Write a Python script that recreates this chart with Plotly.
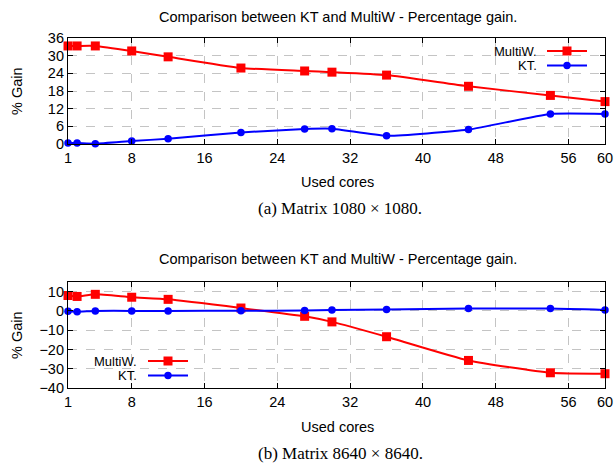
import plotly.graph_objects as go

cores = [1, 2, 4, 8, 12, 20, 27, 30, 36, 45, 54, 60]
multiw_1080 = [33.3, 33.3, 33.3, 31.6, 29.6, 25.8, 24.8, 24.4, 23.4, 19.6, 16.5, 14.4]
kt_1080 = [0.3, 0.3, 0.1, 1.0, 1.8, 3.9, 5.1, 5.2, 2.8, 4.9, 10.2, 10.2]
multiw_8640 = [8.0, 7.5, 8.6, 7.1, 6.0, 1.5, -2.8, -5.7, -13.4, -25.7, -32.1, -32.6]
kt_8640 = [-0.2, -0.4, 0.0, 0.0, 0.0, 0.1, 0.2, 0.5, 0.7, 1.2, 1.2, 0.5]
x_ticks = [1, 8, 16, 24, 32, 40, 48, 56, 60]
y_ticks_1 = [0, 6, 12, 18, 24, 30, 36]
y_ticks_2 = [-40, -30, -20, -10, 0, 10]
title_text = "Comparison between KT and MultiW - Percentage gain."
captions = ["(a) Matrix 1080 × 1080.", "(b) Matrix 8640 × 8640."]

W, H = 616, 468
RED = "#ff0000"
BLUE = "#0000ff"
SANS = "Liberation Sans, Arial, sans-serif"
SERIF = "Liberation Serif, Times New Roman, serif"
FS = 14.5

def px(x):
    return x / W

def py(y):
    return 1 - y / H

fig = go.Figure()

def add_series(xa, ya, xs, ys, color, symbol, size):
    fig.add_trace(go.Scatter(
        x=xs, y=ys, xaxis=xa, yaxis=ya, mode="lines+markers",
        line=dict(color=color, width=2, shape="spline", smoothing=0.5),
        marker=dict(color=color, symbol=symbol, size=size),
        showlegend=False, cliponaxis=False))

add_series("x", "y", cores, multiw_1080, RED, "square", 9)
add_series("x", "y", cores, kt_1080, BLUE, "circle", 7.5)
add_series("x2", "y2", cores, multiw_8640, RED, "square", 9)
add_series("x2", "y2", cores, kt_8640, BLUE, "circle", 7.5)

xdom = [px(68), px(605)]
axis_common = dict(
    showline=True, linecolor="black", linewidth=1.2, mirror="ticks",
    ticks="inside", ticklen=5, tickcolor="black", tickwidth=1,
    showgrid=True, gridcolor="#c4c4c4", griddash="dash", gridwidth=1,
    zeroline=False, tickfont=dict(family=SANS, size=FS, color="black"),
    automargin=False,
)

fig.update_layout(
    width=W, height=H, margin=dict(l=0, r=0, t=0, b=0),
    paper_bgcolor="white", plot_bgcolor="white",
    xaxis=dict(domain=xdom, range=[1, 60], tickvals=x_ticks, anchor="y", **axis_common),
    yaxis=dict(domain=[py(144), py(38)], range=[0, 36], tickvals=y_ticks_1, anchor="x", **axis_common),
    xaxis2=dict(domain=xdom, range=[1, 60], tickvals=x_ticks, anchor="y2", **axis_common),
    yaxis2=dict(domain=[py(388), py(282)], range=[-40, 15], tickvals=y_ticks_2, anchor="x2", **axis_common),
)

def text(t, x, y, size=FS, family=SANS, angle=0, xanchor="center"):
    fig.add_annotation(text=t, xref="paper", yref="paper", x=px(x), y=py(y),
                       showarrow=False, xanchor=xanchor, yanchor="middle",
                       textangle=angle, borderpad=0,
                       font=dict(family=family, size=size, color="black"))

# titles, axis titles and captions
for top, bottom, ty, cap in [(38, 144, 17, captions[0]), (282, 388, 259, captions[1])]:
    text(title_text, 338, ty)
    text("% Gain", 17, (top + bottom) / 2, angle=-90)
    text("Used cores", 337, bottom + 38.5)
    text(cap, 340, bottom + 65, size=17, family=SERIF)

# legends (text left of sample, gnuplot style)
def legend(text_right, line_x0, line_x1, y, label, color, square):
    text(label, text_right, y, size=13, xanchor="right")
    fig.add_shape(type="line", xref="paper", yref="paper",
                  x0=px(line_x0), x1=px(line_x1), y0=py(y), y1=py(y),
                  line=dict(color=color, width=2))
    cx = (line_x0 + line_x1) / 2
    r = 4.5 if square else 3.7
    fig.add_shape(type="rect" if square else "circle", xref="paper", yref="paper",
                  x0=px(cx - r), x1=px(cx + r), y0=py(y - r), y1=py(y + r),
                  fillcolor=color, line=dict(color=color, width=0))

legend(538, 547, 587, 51, "MultiW.", RED, True)
legend(538, 547, 587, 65.5, "KT.", BLUE, False)
legend(138, 148, 188, 361, "MultiW.", RED, True)
legend(138, 148, 188, 375.5, "KT.", BLUE, False)

fig.write_html("out.html", config={"displayModeBar": False},
               post_script="document.body.style.margin='0px';")
